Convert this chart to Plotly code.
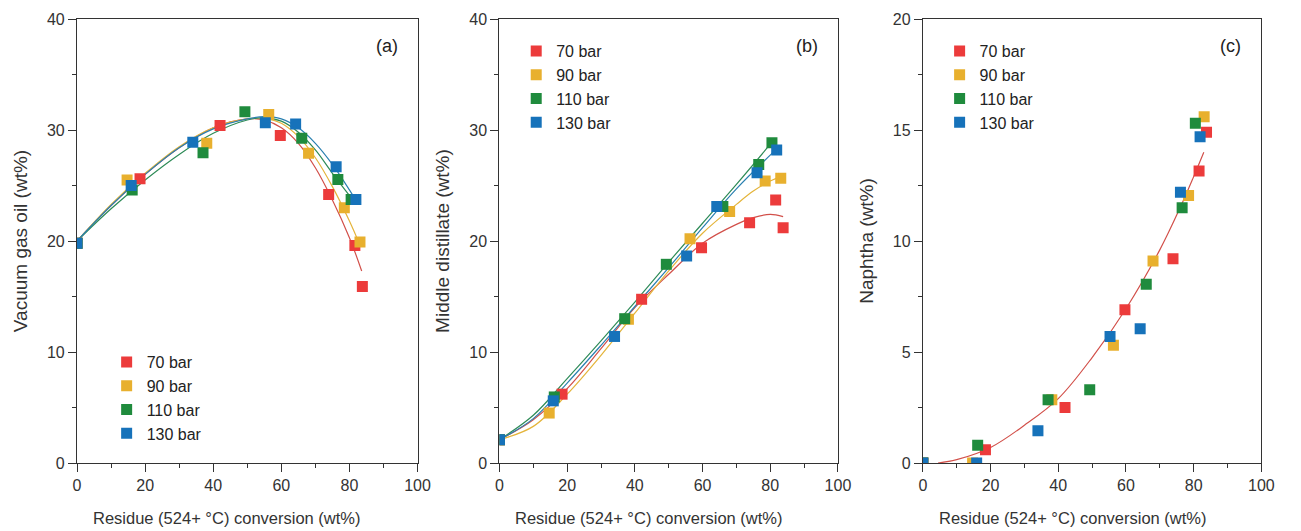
import plotly.graph_objects as go

# ---------------- data ----------------
pressures = ["70 bar", "90 bar", "110 bar", "130 bar"]
colors = ["#EC3B3B", "#E8B02E", "#1F8B3D", "#1672BA"]
fit_colors = ["#D2504A", "#E4B43A", "#2E8B57", "#2A80B0"]

conv70 = [0, 18.5, 42.0, 59.7, 73.9, 81.6, 83.8]
conv90 = [0, 14.7, 38.1, 56.3, 68.0, 78.5, 83.1]
conv110 = [0, 16.2, 37.0, 49.3, 66.0, 76.6, 80.5]
conv130 = [0, 15.9, 34.0, 55.3, 64.2, 76.1, 81.9]

vgo70 = [19.8, 25.6, 30.4, 29.5, 24.2, 19.6, 15.9]
vgo90 = [19.8, 25.5, 28.8, 31.4, 27.9, 23.0, 19.9]
vgo110 = [19.8, 24.6, 27.95, 31.65, 29.25, 25.55, 23.75]
vgo130 = [19.8, 25.0, 28.9, 30.65, 30.55, 26.7, 23.75]

md70 = [2.1, 6.2, 14.75, 19.4, 21.65, 23.7, 21.2]
md90 = [2.1, 4.5, 12.95, 20.2, 22.65, 25.4, 25.65]
md110 = [2.1, 5.95, 13.0, 17.9, 23.1, 26.9, 28.85]
md130 = [2.1, 5.6, 11.4, 18.65, 23.1, 26.15, 28.2]

nap70 = [0, 0.6, 2.5, 6.9, 9.2, 13.15, 14.9]
nap90 = [0, 0.0, 2.85, 5.3, 9.1, 12.05, 15.6]
nap110 = [0, 0.8, 2.85, 3.3, 8.05, 11.5, 15.3]
nap130 = [0, 0.0, 1.45, 5.7, 6.05, 12.2, 14.7]

# fitted curves
fa70_x = [0, 10, 20, 30, 40, 50, 55, 60, 65, 70, 75, 80, 83.6]
fa70_y = [20.0, 23.2, 26.0, 28.4, 30.2, 31.0, 30.9, 30.2, 28.8, 26.6, 23.7, 20.3, 17.3]
fa90_x = [0, 10, 20, 30, 40, 50, 56, 60, 65, 70, 75, 80, 83]
fa90_y = [20.0, 23.3, 26.1, 28.5, 30.2, 31.0, 31.0, 30.6, 29.4, 27.5, 24.9, 21.8, 19.7]
fa110_x = [0, 10, 20, 30, 40, 50, 55, 60, 65, 70, 75, 80, 81.5]
fa110_y = [20.0, 22.9, 25.5, 27.8, 29.7, 30.9, 31.1, 30.8, 29.8, 28.2, 26.1, 24.1, 23.5]
fa130_x = [0, 10, 20, 30, 40, 50, 55, 60, 65, 70, 75, 80, 82]
fa130_y = [20.0, 23.2, 26.0, 28.4, 30.1, 31.0, 31.2, 31.0, 30.2, 28.8, 26.9, 24.6, 23.6]

fb70_x = [0, 10, 20, 30, 40, 50, 60, 70, 75, 80, 83.8]
fb70_y = [2.1, 3.9, 6.7, 10.3, 14.0, 17.0, 19.8, 21.5, 22.1, 22.4, 22.2]
fb90_x = [0, 10, 20, 30, 40, 50, 60, 70, 75, 80, 83.1]
fb90_y = [2.1, 3.3, 6.2, 9.7, 13.5, 17.3, 20.7, 23.3, 24.5, 25.4, 25.8]
fb110_x = [0, 10, 20, 30, 40, 50, 60, 70, 80.5]
fb110_y = [2.1, 4.3, 7.6, 11.0, 14.5, 18.1, 21.6, 25.1, 28.9]
fb130_x = [0, 10, 20, 30, 40, 50, 60, 70, 81.9]
fb130_y = [2.1, 4.0, 7.2, 10.6, 14.1, 17.6, 21.2, 24.7, 28.3]

fc_x = [4.5, 10, 20, 30, 40, 50, 60, 70, 76, 80, 83]
fc_y = [0.0, 0.15, 0.7, 1.7, 2.9, 4.75, 6.95, 9.6, 11.5, 12.9, 14.0]

xtitle = "Residue (524+ °C) conversion (wt%)"
ytitles = ["Vacuum gas oil (wt%)", "Middle distillate (wt%)", "Naphtha (wt%)"]
panel_labels = ["(a)", "(b)", "(c)"]

# ---------------- figure ----------------
FONT = "Liberation Sans, Arial, sans-serif"
fig = go.Figure()

convs = [conv70, conv90, conv110, conv130]
panels = [
    ("x", "y", "legend", [vgo70, vgo90, vgo110, vgo130],
     [(fa70_x, fa70_y), (fa90_x, fa90_y), (fa110_x, fa110_y), (fa130_x, fa130_y)]),
    ("x2", "y2", "legend2", [md70, md90, md110, md130],
     [(fb70_x, fb70_y), (fb90_x, fb90_y), (fb110_x, fb110_y), (fb130_x, fb130_y)]),
    ("x3", "y3", "legend3", [nap70, nap90, nap110, nap130],
     [(fc_x, fc_y)]),
]

for xa, ya, leg, ys, fits in panels:
    for i, (fx, fy) in enumerate(fits):
        fig.add_trace(go.Scatter(x=fx, y=fy, mode="lines", xaxis=xa, yaxis=ya,
                                 line=dict(color=fit_colors[i], width=1.2, shape="spline"),
                                 showlegend=False, hoverinfo="skip"))
    for i in range(4):
        fig.add_trace(go.Scatter(x=convs[i], y=ys[i], mode="markers", xaxis=xa, yaxis=ya,
                                 name=pressures[i], legend=leg,
                                 marker=dict(symbol="square", size=11, color=colors[i],
                                             line=dict(width=0))))

lefts = [74, 502, 931]
doms = [(74 / 1301, 419 / 1301), (502 / 1301, 845 / 1301), (931 / 1301, 1274 / 1301)]
yranges = [(0, 40), (0, 40), (0, 20)]
ydticks = [10, 10, 5]

axis_common = dict(showline=True, mirror=True, linecolor="#333333", linewidth=1.2,
                   ticks="outside", ticklen=8, tickwidth=1.2, tickcolor="#333333",
                   showgrid=False, zeroline=False,
                   tickfont=dict(family=FONT, size=16, color="#333333"))

layout = dict(width=1301, height=531, margin=dict(l=0, r=0, t=19, b=68),
              paper_bgcolor="white", plot_bgcolor="white",
              font=dict(family=FONT, color="#333333"))

anns = []
for k in range(3):
    sx = "" if k == 0 else str(k + 1)
    layout["xaxis" + sx] = dict(axis_common, domain=list(doms[k]), range=[0, 100],
                                anchor="y" + sx, tick0=0, dtick=20,
                                minor=dict(ticks="outside", ticklen=4, tickwidth=1.2,
                                           tickcolor="#333333", dtick=10, showgrid=False))
    layout["yaxis" + sx] = dict(axis_common, domain=[0, 1], range=list(yranges[k]),
                                anchor="x" + sx, tick0=0, dtick=ydticks[k],
                                minor=dict(ticks="outside", ticklen=4, tickwidth=1.2,
                                           tickcolor="#333333", dtick=ydticks[k] / 2,
                                           showgrid=False),
                                title=dict(text=ytitles[k],
                                           font=dict(family=FONT, size=19, color="#333333"),
                                           standoff=14))
    anns.append(dict(text=panel_labels[k], xref="x" + sx + " domain", yref="y" + sx + " domain",
                     x=0.91, y=0.94, showarrow=False, xanchor="center", yanchor="middle",
                     font=dict(family=FONT, size=18, color="#222222")))
    anns.append(dict(text=xtitle, xref="paper", yref="paper",
                     x=(lefts[k] + 152) / 1301, y=(463 - 518) / 444, showarrow=False,
                     xanchor="center", yanchor="middle",
                     font=dict(family=FONT, size=16.5, color="#333333")))

leg_common = dict(font=dict(family=FONT, size=16, color="#222222"), bgcolor="rgba(0,0,0,0)",
                  borderwidth=0, xanchor="left", yanchor="top", tracegroupgap=0)
layout["legend"] = dict(leg_common, x=104 / 1301, y=(463 - 345) / 444)
layout["legend2"] = dict(leg_common, x=519 / 1301, y=(463 - 34) / 444)
layout["legend3"] = dict(leg_common, x=948 / 1301, y=(463 - 34) / 444)
layout["annotations"] = anns

fig.update_layout(**layout)
fig.write_html("out.html")
